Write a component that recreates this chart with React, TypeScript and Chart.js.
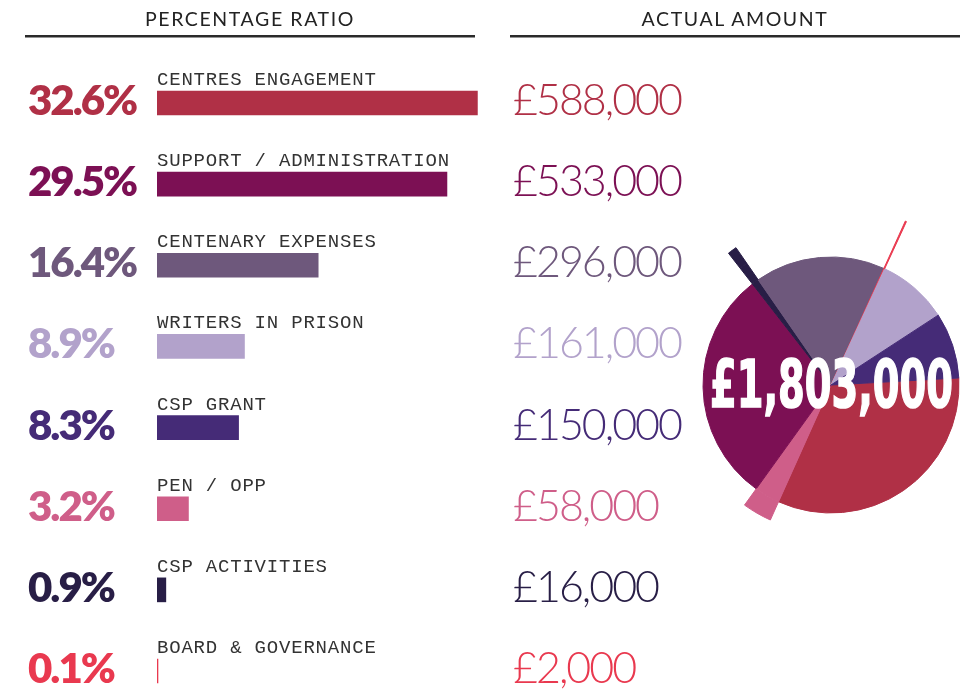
import React, { useEffect, useRef } from "react";
import { Chart, registerables } from "chart.js";

Chart.register(...registerables);

// ---- data ----
const categories = [
  "CENTRES ENGAGEMENT",
  "SUPPORT / ADMINISTRATION",
  "CENTENARY EXPENSES",
  "WRITERS IN PRISON",
  "CSP GRANT",
  "PEN / OPP",
  "CSP ACTIVITIES",
  "BOARD & GOVERNANCE",
];
const percentages = [32.6, 29.5, 16.4, 8.9, 8.3, 3.2, 0.9, 0.1];
const amounts = [588000, 533000, 296000, 161000, 150000, 58000, 16000, 2000];
const percentLabels = ["32.6%", "29.5%", "16.4%", "8.9%", "8.3%", "3.2%", "0.9%", "0.1%"];
const amountLabels = ["£588,000", "£533,000", "£296,000", "£161,000", "£150,000", "£58,000", "£16,000", "£2,000"];
const totalLabel = "£1,803,000";
const headers = ["PERCENTAGE RATIO", "ACTUAL AMOUNT"];

// ---- styles ----
const colors = ["#b03046", "#7c1054", "#6e587c", "#b2a2cb", "#452b77", "#cf5e89", "#281e46", "#e9394f"];
// order of slices around the pie (clockwise from the start angle)
const pieOrder = [0, 5, 1, 6, 2, 7, 3, 4];
// how many extra rings each slice reaches out into
const pieReach = [0, 0, 0, 0, 0, 1, 2, 3];
const ringRadii = [128, 148, 167, 180];

const ROW0 = 115;
const PITCH = 81.14;

export default function App() {
  const barRef = useRef<HTMLCanvasElement | null>(null);
  const pieRef = useRef<HTMLCanvasElement | null>(null);

  useEffect(() => {
    const bar = new Chart(barRef.current as HTMLCanvasElement, {
      type: "bar",
      data: {
        labels: categories,
        datasets: [
          {
            data: percentages,
            backgroundColor: colors,
            borderWidth: 0,
            barThickness: 24,
            clip: false as any,
          },
        ],
      },
      options: {
        indexAxis: "y",
        animation: false,
        responsive: false,
        events: [],
        layout: { padding: { top: 103, bottom: 18, left: 0, right: 0 } },
        scales: {
          x: { display: false, min: 0, max: 35 },
          y: { display: false, offset: false },
        },
        plugins: { legend: { display: false }, tooltip: { enabled: false } },
      },
    });

    const datasets: any[] = [];
    for (let t = ringRadii.length - 1; t >= 0; t--) {
      const w = ringRadii[t] - (t > 0 ? ringRadii[t - 1] : 0);
      const bg = pieOrder.map((i) => (pieReach[i] >= t ? colors[i] : "rgba(0,0,0,0)"));
      datasets.push({
        data: pieOrder.map((i) => amounts[i]),
        backgroundColor: bg,
        borderColor: bg,
        borderWidth: 1,
        weight: w,
        clip: false,
      });
    }
    const pie = new Chart(pieRef.current as HTMLCanvasElement, {
      type: "doughnut",
      data: { labels: pieOrder.map((i) => categories[i]), datasets },
      options: {
        animation: false,
        responsive: false,
        events: [],
        cutout: 0,
        radius: 180,
        rotation: 86.85,
        layout: { padding: { left: 56, right: 0, top: 0, bottom: 0 } },
        plugins: { legend: { display: false }, tooltip: { enabled: false } },
      } as any,
    });

    return () => {
      bar.destroy();
      pie.destroy();
    };
  }, []);

  return (
    <div
      style={{
        position: "fixed",
        left: 0,
        top: 0,
        width: 966,
        height: 689,
        background: "#fff",
        overflow: "hidden",
      }}
    >
      <canvas ref={barRef} width={344} height={689} style={{ position: "absolute", left: 157, top: 0 }} />
      <canvas ref={pieRef} width={326} height={390} style={{ position: "absolute", left: 640, top: 190 }} />
      <svg width={966} height={689} style={{ position: "absolute", left: 0, top: 0, pointerEvents: "none" }}>
        <text x={250} y={26} textAnchor="middle" fontFamily="Lato, 'Open Sans', sans-serif" fontSize={19.5} fill="#222" style={{ letterSpacing: "1.6px" }}>
          {headers[0]}
        </text>
        <text x={735} y={26} textAnchor="middle" fontFamily="Lato, 'Open Sans', sans-serif" fontSize={19.5} fill="#222" style={{ letterSpacing: "1.6px" }}>
          {headers[1]}
        </text>
        <rect x={25} y={35} width={450} height={2.5} fill="#2a2a2a" />
        <rect x={510} y={35} width={450} height={2.5} fill="#2a2a2a" />
        {categories.map((c, i) => (
          <g key={c}>
            <text
              x={157}
              y={85 + i * PITCH}
              fontFamily="'Courier New', 'Liberation Mono', monospace"
              fontSize={19}
              fill="#333"
              style={{ letterSpacing: "0.8px", whiteSpace: "pre" }}
            >
              {c}
            </text>
            <text
              x={28}
              y={ROW0 + i * PITCH}
              fontFamily="Lato, Inter, sans-serif"
              fontWeight={800}
              fontSize={42}
              fill={colors[i]}
              style={{ letterSpacing: "-2px" }}
            >
              {percentLabels[i]}
            </text>
            <text
              x={513}
              y={ROW0 + i * PITCH}
              fontFamily="Lato, Inter, sans-serif"
              fontWeight={300}
              fontSize={43}
              fill={colors[i]}
              style={{ letterSpacing: "-2px" }}
            >
              {amountLabels[i]}
            </text>
          </g>
        ))}
        <text
          x={710}
          y={407}
          textLength={243}
          lengthAdjust="spacingAndGlyphs"
          fontFamily="'Liberation Sans Narrow', 'DejaVu Sans Condensed', 'Liberation Sans', sans-serif"
          fontWeight={700}
          fontSize={65}
          fill="#fff"
          stroke="#fff"
          strokeWidth={1.5}
        >
          {totalLabel}
        </text>
      </svg>
    </div>
  );
}
